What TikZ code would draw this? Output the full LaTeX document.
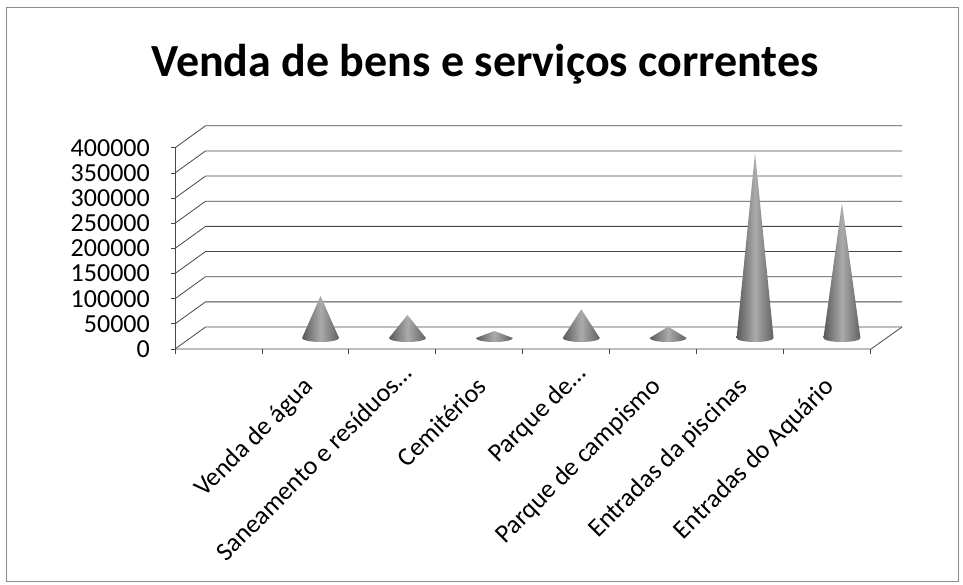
\documentclass[tikz,border=0pt]{standalone}
\usepackage{fontspec}
\setmainfont{Carlito}
\begin{document}
\begin{tikzpicture}[x=1pt,y=1pt,yscale=-1,
  grid/.style={draw=black!72,line width=0.8pt},
  frame/.style={draw=black!45,line width=0.7pt},
  ylab/.style={anchor=east,inner sep=0pt,font=\fontsize{26}{30}\selectfont},
  xlab/.style={rotate=45,anchor=base east,inner sep=0pt,font=\fontsize{26}{30}\selectfont},
  conefill/.style={left color=black!65,right color=black!62,middle color=black!33},
]
\useasboundingbox (0,0) rectangle (963,585);
\draw[frame] (6,7) rectangle (958,581);
\node[anchor=base,inner sep=0pt,font=\bfseries\fontsize{46}{52}\selectfont] (title) at (485,77) {Venda de bens e serviços correntes};
% walls and grid
\foreach \k/\lab in {0/0,1/50000,2/100000,3/150000,4/200000,5/250000,6/300000,7/350000,8/400000}{
  \pgfmathsetmacro\yf{349-25.15*\k}
  \pgfmathsetmacro\yb{327-25.15*\k}
  \coordinate (f\k) at (175,\yf);
  \coordinate (b\k) at (205.5,\yb);
  \coordinate (r\k) at (902,\yb);
  \draw[grid] (f\k) -- (b\k) -- (r\k);
  \draw[grid] (f\k) -- ++(-4,0);
  \node[ylab] (y\k) at (150,\yf) {\lab};
}
\draw[grid] (f0) -- (f8);
\coordinate (fr) at (871,349);
\draw[grid] (f0) -- (fr) -- (r0);
\foreach \i in {0,...,8}{
  \pgfmathsetmacro\xt{175+86.9*\i}
  \coordinate (t\i) at (\xt,349);
  \draw[grid] (t\i) -- ++(0,5);
}
% cones
\foreach \n/\ap in {1/296,2/315,3/331,4/309.3,5/326.7,6/153.3,7/203.3}{
  \pgfmathsetmacro\cx{175+86.9*(\n+0.5)+15.2}
  \coordinate (apex\n) at (\cx,\ap);
  \coordinate (bl\n) at (\cx-18.5,338);
  \coordinate (br\n) at (\cx+18.5,338);
  \path[conefill] (bl\n) -- (apex\n) -- (br\n) arc[start angle=0,end angle=180,x radius=18.5,y radius=4] -- cycle;
}
% category labels
\foreach \n/\txt/\dx/\yy in {1/Venda de água/9/388,2/Saneamento e resíduos…/21/375,3/Cemitérios/9/388,4/Parque de…/21/375,5/Parque de campismo/9/388,6/Entradas da piscinas/9/388,7/Entradas do Aquário/9/388}{
  \pgfmathsetmacro\lx{175+86.9*(\n+0.5)+\dx}
  \node[xlab] (c\n) at (\lx,\yy) {\txt};
}
\end{tikzpicture}
\end{document}
